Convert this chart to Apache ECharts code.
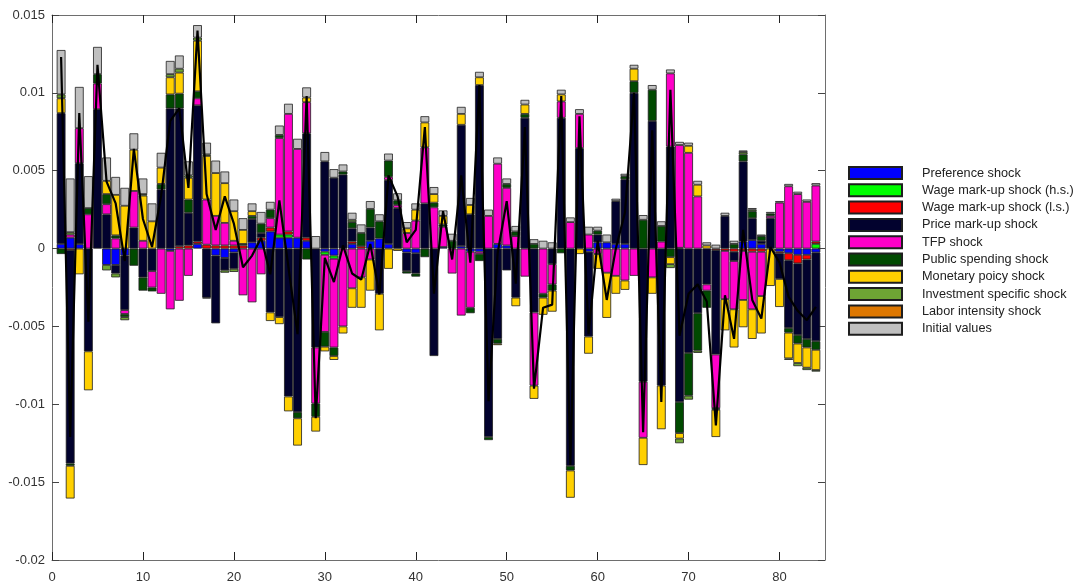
<!DOCTYPE html>
<html>
<head>
<meta charset="utf-8">
<script src="https://cdn.jsdelivr.net/npm/echarts@6/dist/echarts.min.js"></script>
<style>
  html, body { margin: 0; padding: 0; background: #ffffff; }
  #chart { width: 1080px; height: 588px; }
</style>
</head>
<body>
<div id="chart"></div>
<script>
// Historical shock decomposition: contributions are stored in thousandths.
const UNIT = 1e-3;

// Axis positions 0..85; bars occupy periods 1..84
const axisSteps = Array.from({ length: 86 }, (_, i) => String(i));

const shockNames = [
  'Preference shock',
  'Wage mark-up shock (h.s.)',
  'Wage mark-up shock (l.s.)',
  'Price mark-up shock',
  'TFP shock',
  'Public spending shock',
  'Monetary poicy shock',
  'Investment specific shock',
  'Labor intensity shock',
  'Initial values'
];

const shockColors = [
  '#0000ff', '#00ff00', '#ff0000', '#02022e', '#ff00c8',
  '#004a00', '#ffd000', '#6ea534', '#dd7700', '#bfbfbf'
];

const preference = [
  0.3, 0.7, 0.28, 0, 0, -1.05, -1.05, -0.45, 0, 0,
  0, 0, -0.15, 0, 0, 0.3, 0, -0.45, -0.6, -0.25,
  0, 0.4, 0.5, 1.1, 0.7, 0.7, 0.7, 0.5, 0, -0.2,
  -0.45, 0, 0.3, 0, 0.5, 0.65, 0.3, 0, -0.25, -0.3,
  0, 0, 0.1, 0, 0.15, -0.2, -0.2, 0, 0.3, 0.2,
  0, 0, 0, 0, 0, 0, 0, 0, -0.2, 0.4,
  0.4, 0.3, 0.3, 0, 0, 0, 0, 0, 0.05, 0,
  0, 0, 0, 0, 0, 0.45, 0.55, 0.3, 0, -0.2,
  -0.3, -0.4, -0.4, -0.25
];

const wageHS = [
  0, 0, 0, 0, 0, 0, 0, 0, 0, 0,
  0, 0, 0, 0, 0, 0, 0, 0, 0, 0,
  0, 0, 0, 0, 0.2, 0.2, 0, 0, 0, -0.2,
  -0.2, 0, 0, 0, 0, 0, 0, 0, 0, 0,
  0, 0, 0, 0, 0, 0, 0, 0, 0, 0,
  0, 0, 0, 0, 0, 0, 0, 0, 0, 0,
  0, 0, 0, 0, 0, 0, 0, 0, 0, 0,
  0, 0, 0, 0, 0, 0, 0, 0, 0, 0,
  0, 0, 0, 0.3
];

const wageLS = [
  0, -0.1, 0, 0, 0, 0, 0, 0, 0, 0,
  0, 0, 0, 0.15, 0.2, 0.15, 0.25, 0.2, 0.2, 0.2,
  0.2, 0, 0.2, 0.25, 0, 0.2, 0, 0.2, 0, 0,
  0, 0, 0.15, 0.15, 0, 0, 0, 0, 0, 0,
  0, 0, 0, 0, 0, 0, 0, 0, 0, 0,
  0, 0, 0, 0, 0, 0, 0, 0, 0, 0,
  0, 0, 0, 0, 0, 0, 0, 0, 0, 0,
  0, 0, -0.1, -0.15, -0.2, -0.15, -0.2, -0.2, 0, -0.1,
  -0.45, -0.55, -0.3, 0.15
];

const priceMarkup = [
  8.4, -13.7, 5.2, -6.6, 8.95, 2.2, -0.55, -3.5, 1.35, -1.85,
  -1.45, 3.8, 9.0, 8.85, 2.1, 8.75, -3.15, -4.35, -0.8, -1.05,
  0, 1.5, 0.3, -4.1, -4.4, -9.5, -10.5, 6.7, -6.35, 5.6,
  4.55, 4.75, 0.85, 0, 0.85, -2.9, 4.1, 2.6, -1.2, -1.3,
  2.9, -6.9, 0, 0, 7.8, 2.2, 10.5, -12.1, -5.8, -1.4,
  -3.15, 8.4, -4.1, 0, -1.0, 8.4, -13.95, 6.45, -5.45, 0.5,
  0, 2.75, 4.15, 10.0, -8.55, 8.2, -8.8, 6.55, -9.85, -6.7,
  -4.15, -2.3, -6.7, 2.1, -0.6, 5.15, 1.4, 0.2, 1.95, -1.65,
  -4.35, -4.6, -5.1, -5.7
];

const tfp = [
  0, 0.2, 2.25, 2.2, 1.65, 0.65, 0.65, -0.25, 2.35, 0.5,
  -1.05, -2.9, -3.75, -3.35, -1.75, 0.45, 2.9, 1.9, 1.45, 0.3,
  -3.0, -3.45, -1.65, 0.6, 6.2, 7.55, 5.7, 2.0, -3.6, -4.95,
  -5.7, -5.0, -2.55, -1.85, -0.7, 0, 0.2, 0.2, 1.0, 1.8,
  3.6, 2.65, 1.3, -1.6, -4.3, -3.6, -0.15, 2.1, 5.15, 3.7,
  0.8, -1.8, -4.7, -2.9, -1.3, 1.05, 1.7, 2.2, 0.9, -0.35,
  -1.55, -1.75, -2.05, -1.75, -3.6, -1.85, 0.45, 4.7, 6.6, 6.15,
  3.35, -0.4, -3.45, -3.1, -3.1, -3.15, -3.7, -2.85, 0.15, 2.95,
  4.0, 3.5, 3.0, 3.6
];

const publicSpending = [
  -0.35, -0.15, 0, 0.4, 0.6, 0.65, 0.2, -0.2, -1.1, -0.85,
  -0.25, 0.35, 0.9, 0.95, 0.85, 0.45, -0.05, 0, 0, 0,
  0.1, 0.2, 0.6, 0.55, 0.2, 0, -0.4, -0.7, -0.85, -0.95,
  -0.55, 0.2, 0.4, 0.85, 1.2, 1.1, 1.05, 0.3, -0.15, -0.2,
  -0.55, 0.3, 0.15, 0.5, 0, -0.35, -0.45, -0.2, -0.3, 0.25,
  0.3, 0.25, 0.3, -0.25, -0.4, -0.3, -0.3, 0, 0, 0.25,
  0, 0, 0.2, 0.75, 1.85, 2.0, 1.0, -0.55, -2.0, -2.75,
  -2.4, -1.1, -0.1, 0, 0.3, 0.45, 0.45, 0.3, 0.15, 0,
  -0.3, -0.55, -0.55, -0.55
];

const monetary = [
  0.95, -2.1, -1.65, -2.5, 0, 0.85, 2.6, 2.75, 2.65, 2.9,
  1.75, 1.05, 1.1, 1.35, 1.4, 3.25, 2.8, 2.75, 2.55, 1.9,
  0.9, 0.3, 0, -0.55, -0.45, -0.95, -1.75, 0.3, -0.95, -0.3,
  -0.25, -0.45, -1.25, -1.95, -2.0, -2.35, -1.3, -0.15, 0.3, 0.7,
  1.6, 0.55, 0.55, 0, 0.7, 0.6, 0.5, 0, -0.1, 0,
  -0.55, 0.6, -0.85, -1.1, -1.35, 0.45, -1.75, -0.35, -1.1, -0.95,
  -2.9, -1.15, -0.6, 0.8, -1.75, -1.05, -2.8, -0.45, -0.35, 0.45,
  0.75, 0.2, -1.75, -2.0, -2.45, -1.75, -1.9, -2.4, -2.4, -1.8,
  -1.65, -1.25, -1.3, -1.3
];

const investment = [
  0.25, 0.15, 0, 0, 0, -0.35, -0.25, -0.2, 0, 0.1,
  0, 0, 0.2, 0.25, 0.15, 0.2, 0.1, 0, -0.15, -0.2,
  0, 0, 0, 0, 0, 0, 0, 0, 0, 0,
  0, 0, 0.15, 0, 0, 0, 0, 0, 0, 0,
  0, 0, 0, 0, 0, 0, 0, 0, 0, 0,
  0, 0, 0, 0, 0, 0, 0, 0, 0, 0,
  0, 0, 0, 0, 0, 0, 0, -0.25, -0.3, -0.25,
  -0.15, 0, 0, 0, 0, 0.15, 0.1, 0, 0, 0,
  -0.1, -0.2, -0.15, -0.1
];

const laborIntensity = [
  0, 0, 0, 0, 0, 0, 0, 0, 0, 0,
  0, 0, 0, 0, 0, 0, 0, 0, 0, 0,
  0, 0, 0, 0, 0, 0, 0, 0, 0, 0,
  0, 0, 0, 0, 0, 0, 0, 0, 0, 0,
  0, 0, 0, 0, 0, 0, 0, 0, 0, 0,
  0, 0, 0, 0, 0, 0, 0, 0, 0, 0,
  0, 0, 0, 0, 0, 0, 0, 0, 0, 0,
  0, 0, 0, 0, 0, 0, 0, 0, 0, 0,
  0, 0, 0, 0
];

const initialValues = [
  2.85, 3.45, 2.65, 2.05, 1.75, 1.5, 1.15, 1.15, 1.05, 1.0,
  1.15, 0.95, 0.85, 0.85, 0.9, 0.8, 0.75, 0.8, 0.75, 0.75,
  0.75, 0.5, 0.75, 0.5, 0.6, 0.65, 0.65, 0.65, 0.8, 0.6,
  0.55, 0.45, 0.45, 0.55, 0.5, 0.45, 0.45, 0.45, 0.4, 0.4,
  0.4, 0.45, 0.35, 0.45, 0.45, 0.45, 0.35, 0.4, 0.4, 0.35,
  0.35, 0.3, 0.3, 0.5, 0.4, 0.3, 0.3, 0.3, 0.5, 0.25,
  0.5, 0.15, 0.15, 0.25, 0.3, 0.3, 0.3, 0.25, 0.2, 0.2,
  0.25, 0.2, 0.25, 0.2, 0.2, 0.1, 0.1, 0.1, 0.1, 0.1,
  0.15, 0.15, 0.15, 0.15
];

// Observed series (black line)
const observed = [
  12.3, -12.1, 8.7, -4.7, 11.8, 4.3, 2.9, -0.8, 6.4, 1.9,
  0.1, 3.4, 8.2, 9.0, 3.9, 14.0, 3.5, 1.2, 3.35, 1.6,
  -1.2, -0.45, 0.7, -1.65, 3.1, -1.2, -5.5, 9.8, -10.9, -0.6,
  -2.15, 0.2, -1.6, -2.0, 0.3, -2.95, 4.7, 3.35, 0.4, 1.2,
  7.8, -2.9, 2.4, -0.7, 4.7, -0.9, 10.5, -9.8, -0.3, 3.05,
  -2.25, 7.8, -9.0, -3.8, -3.6, 9.8, -13.9, 8.5, -5.5, 0.5,
  -3.3, 0.0, 2.3, 10.0, -11.8, 7.6, -9.85, 10.2, -5.6, -2.9,
  -2.3, -3.4, -11.35, -3.0, -5.8, 1.2, -3.3, -4.5, 0.1, -0.9,
  -3.1, -4.0, -4.6, -3.75
];

const contributions = [
  preference, wageHS, wageLS, priceMarkup, tfp,
  publicSpending, monetary, investment, laborIntensity, initialValues
];

const FONT = 'Liberation Sans, Arial, Helvetica, sans-serif';
const AXIS_COLOR = '#6e6e6e';

// Place a period series on the 0..85 axis: slot 0 and slot 85 stay empty.
function onAxis(values, skipZero) {
  const out = axisSteps.map(() => '-');
  values.forEach((v, i) => {
    out[i + 1] = (skipZero && v === 0) ? '-' : v * UNIT;
  });
  return out;
}

const barSeries = shockNames.map((name, k) => ({
  name: name,
  type: 'bar',
  stack: 'decomposition',
  barWidth: 8.8,
  xAxisIndex: 0,
  yAxisIndex: 0,
  itemStyle: { color: shockColors[k], borderColor: '#1e1e1e', borderWidth: 0.8 },
  emphasis: { disabled: true },
  data: onAxis(contributions[k], true)
}));

const lineSeries = {
  name: 'Observed',
  type: 'line',
  xAxisIndex: 0,
  yAxisIndex: 0,
  symbol: 'none',
  z: 5,
  lineStyle: { color: '#000000', width: 2.2 },
  emphasis: { disabled: true },
  data: onAxis(observed, false)
};

const xCommon = {
  type: 'category',
  data: axisSteps,
  boundaryGap: false,
  splitLine: { show: false },
  axisLine: { show: true, onZero: false, lineStyle: { color: AXIS_COLOR, width: 1 } },
  axisTick: { show: true, inside: true, length: 8, interval: 9, lineStyle: { color: '#222', width: 1 } }
};

const yCommon = {
  type: 'value',
  min: -0.02,
  max: 0.015,
  interval: 0.005,
  splitLine: { show: false },
  axisLine: { show: true, onZero: false, lineStyle: { color: AXIS_COLOR, width: 1 } },
  axisTick: { show: true, inside: true, length: 7, lineStyle: { color: '#444', width: 1 } }
};

const option = {
  animation: false,
  backgroundColor: '#ffffff',
  grid: { left: 52, top: 15, right: 255, bottom: 28, containLabel: false },
  xAxis: [
    Object.assign({}, xCommon, {
      position: 'bottom',
      axisLabel: {
        color: '#333', fontFamily: FONT, fontSize: 13, margin: 11, interval: 9
      }
    }),
    Object.assign({}, xCommon, { position: 'top', axisLabel: { show: false } })
  ],
  yAxis: [
    Object.assign({}, yCommon, {
      position: 'left',
      axisLabel: {
        color: '#333', fontFamily: FONT, fontSize: 13, margin: 7,
        formatter: v => String(+Number(v).toFixed(3))
      }
    }),
    Object.assign({}, yCommon, { position: 'right', axisLabel: { show: false } })
  ],
  legend: {
    data: shockNames,
    orient: 'vertical',
    left: 843,
    top: 161,
    itemWidth: 53,
    itemHeight: 12,
    itemGap: 3.3,
    icon: 'rect',
    selectedMode: false,
    textStyle: {
      fontFamily: FONT, fontSize: 12.7, color: '#222', lineHeight: 12,
      padding: [0, 0, 0, 15]
    }
  },
  series: barSeries.concat([lineSeries])
};

const chart = echarts.init(document.getElementById('chart'), null, { renderer: 'canvas' });
chart.setOption(option);
</script>
</body>
</html>
